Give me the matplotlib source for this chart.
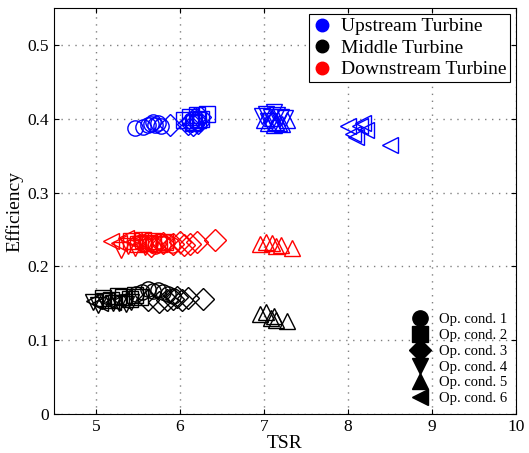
import matplotlib
matplotlib.use("Agg")
import matplotlib.pyplot as plt
from matplotlib.lines import Line2D

plt.rcParams['font.family'] = ['Liberation Serif', 'DejaVu Serif']
plt.rcParams['mathtext.fontset'] = 'stix'

turbines = ['Upstream Turbine', 'Middle Turbine', 'Downstream Turbine']
colors = ['blue', 'black', 'red']
op_labels = ['Op. cond. 1', 'Op. cond. 2', 'Op. cond. 3',
             'Op. cond. 4', 'Op. cond. 5', 'Op. cond. 6']
markers = ['o', 's', 'D', 'v', '^', '<']

# TSR / efficiency per turbine and operating condition
up_tsr = [
    [5.47, 5.56, 5.62, 5.66, 5.70, 5.74, 5.78, 5.68],
    [6.05, 6.12, 6.17, 6.20, 6.25, 6.32, 6.15, 6.22],
    [5.88, 6.10, 6.14, 6.18, 6.21, 6.24, 6.16],
    [6.98, 7.02, 7.08, 7.12, 7.16, 7.20, 7.25, 7.05],
    [7.00, 7.05, 7.10, 7.15, 7.22, 7.28, 7.12, 7.18],
    [8.00, 8.06, 8.10, 8.15, 8.18, 8.22, 8.50],
]
up_eff = [
    [0.388, 0.389, 0.392, 0.393, 0.391, 0.394, 0.390, 0.396],
    [0.398, 0.402, 0.396, 0.405, 0.400, 0.407, 0.394, 0.399],
    [0.391, 0.393, 0.397, 0.401, 0.395, 0.403, 0.391],
    [0.404, 0.407, 0.402, 0.409, 0.405, 0.403, 0.401, 0.397],
    [0.398, 0.395, 0.401, 0.396, 0.393, 0.399, 0.391, 0.394],
    [0.390, 0.380, 0.375, 0.390, 0.395, 0.385, 0.365],
]
mid_tsr = [
    [5.48, 5.55, 5.62, 5.68, 5.74, 5.80, 5.86, 5.92],
    [5.08, 5.18, 5.26, 5.32, 5.40, 5.46, 5.52],
    [5.62, 5.75, 5.85, 5.92, 5.97, 6.02, 6.10, 6.28],
    [4.96, 5.02, 5.10, 5.20, 5.28, 5.36, 5.42],
    [6.95, 7.02, 7.08, 7.12, 7.15, 7.28],
    [4.98, 5.05, 5.12, 5.20, 5.30],
]
mid_eff = [
    [0.162, 0.165, 0.170, 0.167, 0.168, 0.165, 0.163, 0.160],
    [0.157, 0.155, 0.160, 0.158, 0.156, 0.161, 0.159],
    [0.155, 0.152, 0.154, 0.156, 0.158, 0.155, 0.157, 0.156],
    [0.152, 0.148, 0.153, 0.150, 0.151, 0.149, 0.152],
    [0.135, 0.138, 0.130, 0.133, 0.128, 0.126],
    [0.153, 0.150, 0.155, 0.152, 0.154],
]
down_tsr = [
    [5.58, 5.64, 5.70, 5.75, 5.80, 5.85, 5.90],
    [5.42, 5.50, 5.56, 5.62, 5.68, 5.75, 5.82],
    [5.65, 5.80, 5.92, 6.00, 6.05, 6.12, 6.20, 6.42],
    [5.30, 5.38, 5.46, 5.52, 5.58],
    [6.95, 7.02, 7.10, 7.15, 7.20, 7.33],
    [5.18, 5.28, 5.36, 5.45, 5.52],
]
down_eff = [
    [0.230, 0.232, 0.228, 0.235, 0.231, 0.233, 0.229],
    [0.234, 0.231, 0.236, 0.232, 0.235, 0.230, 0.233],
    [0.228, 0.232, 0.230, 0.233, 0.229, 0.231, 0.233, 0.236],
    [0.222, 0.228, 0.225, 0.230, 0.227],
    [0.230, 0.233, 0.232, 0.228, 0.229, 0.225],
    [0.235, 0.232, 0.238, 0.234, 0.236],
]

tsr = [up_tsr, mid_tsr, down_tsr]
eff = [up_eff, mid_eff, down_eff]

fig = plt.figure(figsize=(5.29, 4.53), dpi=100)
ax = fig.add_axes([0.102, 0.086, 0.873, 0.896])

for t in range(3):
    for k in range(6):
        ax.plot(tsr[t][k], eff[t][k], linestyle='none', marker=markers[k],
                markersize=11, markerfacecolor='none',
                markeredgecolor=colors[t], markeredgewidth=1.0)

ax.set_xlim(4.5, 10)
ax.set_ylim(0, 0.55)
ax.set_xticks([5, 6, 7, 8, 9, 10])
ax.set_yticks([0, 0.1, 0.2, 0.3, 0.4, 0.5])
ax.set_yticklabels(['0', '0.1', '0.2', '0.3', '0.4', '0.5'])
ax.tick_params(direction='in', top=True, right=True, labelsize=12.5)
ax.grid(True, linestyle=(0, (1, 4)), color='0.5', linewidth=1.0)
ax.set_xlabel('TSR', fontsize=14, labelpad=0)
ax.set_ylabel('Efficiency', fontsize=14, labelpad=3)

h1 = [Line2D([], [], linestyle='none', marker='o', markersize=9,
             color=c) for c in colors]
leg1 = ax.legend(h1, turbines, loc='upper right', fontsize=14,
                 fancybox=False, edgecolor='black', framealpha=1,
                 handlelength=0.9, handletextpad=0.5, borderaxespad=0.3,
                 labelspacing=0.2, borderpad=0.2)
leg1.get_frame().set_linewidth(0.8)
ax.add_artist(leg1)

h2 = [Line2D([], [], linestyle='none', marker=m, markersize=11,
             color='black') for m in markers]
ax.legend(h2, op_labels, loc='lower right', fontsize=10.5, frameon=False,
          handlelength=1.0, handletextpad=0.8, labelspacing=0.18,
          borderaxespad=0.2)

fig.savefig('out.png', dpi=100)
